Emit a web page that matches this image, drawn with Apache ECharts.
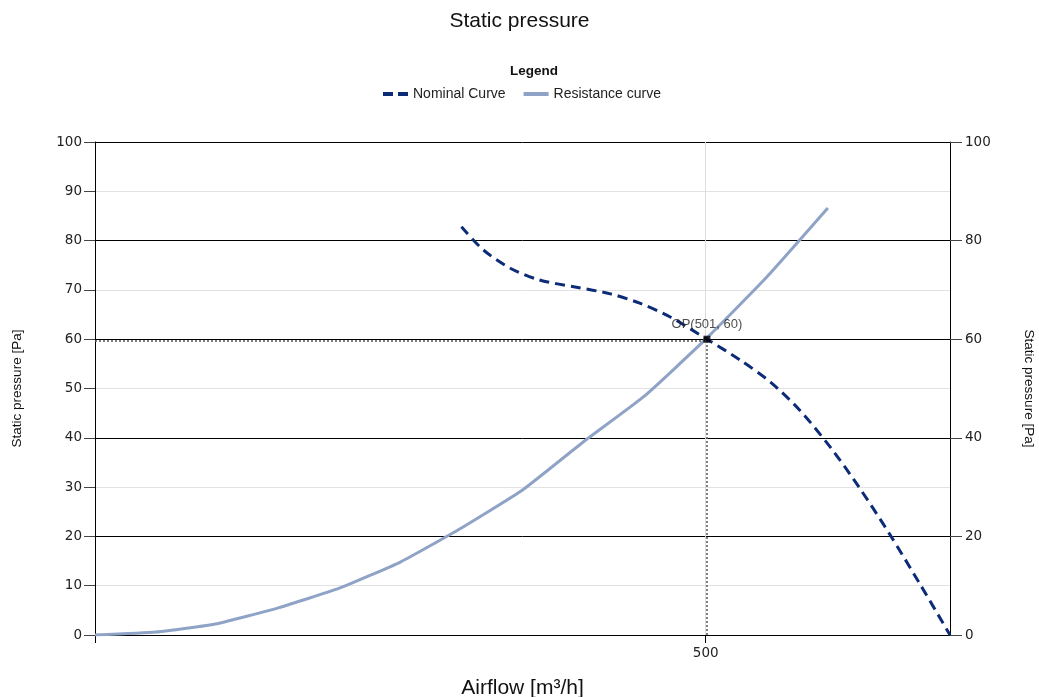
<!DOCTYPE html>
<html>
<head>
<meta charset="utf-8">
<script src="https://cdn.jsdelivr.net/npm/echarts@6/dist/echarts.min.js"></script>
<style>html,body{margin:0;padding:0;background:#fff}#c{width:1039px;height:697px}</style>
</head>
<body>
<div id="c"></div>
<script>
const nominalX = [300, 318, 340, 364, 393, 422, 446, 471, 501, 528, 553, 577, 602, 626, 651, 675, 700];
const nominalY = [82.8, 78.1, 74.4, 72.0, 70.6, 69.2, 67.3, 64.5, 60, 55.8, 51.3, 45.6, 38.1, 29.8, 20.3, 10.5, 0];
const resistX = [0, 50, 100, 150, 200, 250, 300, 350, 400, 450, 500, 550, 600];
const resistY = [0, 0.6, 2.3, 5.5, 9.5, 14.8, 21.7, 29.4, 39.2, 48.5, 60, 72.6, 86.6];
const opPoint = [501, 60];
const opLabel = 'OP(501, 60)';
const xTicks = [0, 500];
const xLabels = [500];

const font = 'Liberation Sans, Arial, sans-serif';
const tickFont = 'DejaVu Sans, sans-serif';
const chart = echarts.init(document.getElementById('c'));
chart.setOption({
  animation: false,
  backgroundColor: '#fff',
  title: [
    { text: 'Static pressure', left: 'center', top: 6, textStyle: { fontFamily: font, fontSize: 21, fontWeight: 'normal', color: '#111' } },
    { text: 'Legend', left: 505, top: 59, textStyle: { fontFamily: font, fontSize: 13.5, fontWeight: 'bold', color: '#111' } }
  ],
  legend: {
    top: 82, left: 378, itemWidth: 25, itemHeight: 4, itemGap: 18,
    textStyle: { fontFamily: font, fontSize: 14, color: '#222' },
    data: [
      { name: 'Nominal Curve', icon: 'path://M0,0h10v4h-10z M15,0h10v4h-10z', itemStyle: { color: '#0c2c78' } },
      { name: 'Resistance curve', icon: 'path://M0,0h25v4h-25z', itemStyle: { color: '#8fa3c7' } }
    ]
  },
  grid: { left: 95, right: 89, top: 142, bottom: 62, containLabel: false, outerBoundsMode: 'none' },
  xAxis: {
    type: 'value', min: 0, max: 700, interval: 500,
    name: 'Airflow [m³/h]', nameLocation: 'middle', nameGap: 43,
    nameTextStyle: { fontFamily: font, fontSize: 21, color: '#111' },
    axisLine: { show: true, onZero: false, lineStyle: { color: '#000', width: 1 } },
    axisTick: { show: true, length: 8, customValues: xTicks, lineStyle: { color: '#000' } },
    axisLabel: { fontFamily: tickFont, fontSize: 13.5, color: '#222', margin: 11, customValues: xLabels },
    splitLine: { show: true, lineStyle: { color: '#dcdcdc', width: 1 } }
  },
  yAxis: [
    {
      type: 'value', min: 0, max: 100, interval: 10, position: 'left',
      name: 'Static pressure [Pa]', nameLocation: 'middle', nameGap: 71, nameRotate: 90,
      nameTextStyle: { fontFamily: font, fontSize: 13.5, color: '#111' },
      axisLine: { show: true, lineStyle: { color: '#000' } },
      axisTick: { show: true, length: 11, lineStyle: { color: '#444' } },
      axisLabel: { fontFamily: tickFont, fontSize: 13.5, color: '#222', margin: 13 },
      splitLine: { show: true, lineStyle: { color: ['#000', '#e2e2e2'], width: 1 } }
    },
    {
      type: 'value', min: 0, max: 100, interval: 20, position: 'right',
      name: 'Static pressure [Pa]', nameLocation: 'middle', nameGap: 72, nameRotate: -90,
      nameTextStyle: { fontFamily: font, fontSize: 13.5, color: '#111' },
      axisLine: { show: true, lineStyle: { color: '#000' } },
      axisTick: { show: true, length: 12, lineStyle: { color: '#444' } },
      axisLabel: { fontFamily: tickFont, fontSize: 13.5, color: '#222', margin: 15 },
      splitLine: { show: false }
    }
  ],
  series: [
    {
      name: 'Nominal Curve', type: 'line', smooth: 0.3, showSymbol: false, symbol: 'none', z: 4,
      color: '#0c2c78',
      lineStyle: { color: '#0c2c78', width: 3, type: [10, 6] },
      data: nominalX.map((x, i) => [x, nominalY[i]])
    },
    {
      name: 'Resistance curve', type: 'line', smooth: 0.15, showSymbol: false, symbol: 'none', z: 3,
      color: '#8fa3c7',
      lineStyle: { color: '#8fa3c7', width: 3 },
      data: resistX.map((x, i) => [x, resistY[i]]),
      markLine: {
        silent: true, symbol: 'none', label: { show: false },
        lineStyle: { color: '#555', type: [2, 2], width: 1.5 },
        data: [
          [{ coord: [opPoint[0], 0] }, { coord: opPoint }],
          [{ coord: [0, opPoint[1] - 0.3] }, { coord: [opPoint[0], opPoint[1] - 0.3] }]
        ]
      }
    },
    {
      name: 'OP', type: 'scatter', symbol: 'rect', symbolSize: 7, z: 6,
      itemStyle: { color: '#000' },
      label: { show: true, position: 'top', distance: 5, formatter: opLabel,
        fontFamily: font, fontSize: 13, color: '#222' },
      data: [opPoint]
    }
  ]
});
</script>
</body>
</html>
